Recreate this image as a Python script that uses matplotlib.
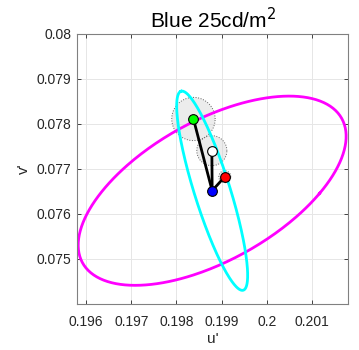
import numpy as np
import matplotlib
matplotlib.use("Agg")
import matplotlib.pyplot as plt

plt.rcParams['font.family'] = ['Liberation Sans', 'DejaVu Sans']

# Chromaticity points (u', v')
center = (0.198790, 0.076511)      # blue reference
green_pt = (0.198376, 0.078104)
white_pt = (0.198783, 0.077400)
red_pt = (0.199069, 0.076822)

# Uncertainty circle radii (in u'v' units)
green_r = 0.00048
white_r = 0.000333
red_r = 0.000133

# Ellipses: semi-major, semi-minor, angle (deg)
magenta_ell = (0.003285, 0.001551, 29.3)
cyan_ell = (0.002314, 0.000396, 107.3)

xticks = [0.196, 0.197, 0.198, 0.199, 0.200, 0.201]
xticklabels = ['0.196', '0.197', '0.198', '0.199', '0.2', '0.201']
yticks = [0.075, 0.076, 0.077, 0.078, 0.079, 0.080]
yticklabels = ['0.075', '0.076', '0.077', '0.078', '0.079', '0.08']


def ellipse_xy(c, a, b, ang, t0=0.0, n=400):
    t = np.linspace(t0, t0 + 2 * np.pi, n)
    th = np.deg2rad(ang)
    x = c[0] + a * np.cos(t) * np.cos(th) - b * np.sin(t) * np.sin(th)
    y = c[1] + a * np.cos(t) * np.sin(th) + b * np.sin(t) * np.cos(th)
    return x, y


def circle_xy(c, r, n=200):
    t = np.linspace(0, 2 * np.pi, n)
    return c[0] + r * np.cos(t), c[1] + r * np.sin(t)


fig = plt.figure(figsize=(3.59, 3.5), dpi=100)
ax = fig.add_axes([0.2145, 0.132, 0.7555, 0.772])

# shaded uncertainty circles sit under the ellipse outlines
for pt, r in [(green_pt, green_r), (white_pt, white_r), (red_pt, red_r)]:
    cx, cy = circle_xy(pt, r)
    ax.fill(cx, cy, facecolor='#d0d0d0', alpha=0.4, zorder=1.5)
    ax.plot(cx, cy, color='#606060', lw=0.7, ls=':', zorder=1.6)

x, y = ellipse_xy(center, *magenta_ell, t0=-0.9)
ax.plot(x, y, color='#ff00ff', lw=2, zorder=2)
x, y = ellipse_xy(center, *cyan_ell)
ax.plot(x, y, color='#00ffff', lw=2, zorder=2)

for pt in [green_pt, white_pt, red_pt]:
    ax.plot([center[0], pt[0]], [center[1], pt[1]], color='black', lw=2, zorder=4)

for pt, col in [(green_pt, '#00ff00'), (white_pt, 'white'), (red_pt, 'red'), (center, 'blue')]:
    ax.plot(pt[0], pt[1], 'o', ms=7, mfc=col, mec='black', mew=0.8, zorder=5)

ax.set_xlim(0.1958, 0.2018)
ax.set_ylim(0.074, 0.080)
ax.set_xticks(xticks)
ax.set_xticklabels(xticklabels)
ax.set_yticks(yticks)
ax.set_yticklabels(yticklabels)
ax.tick_params(direction='in', top=True, right=True, labelsize=10,
               colors='#262626', length=3, width=0.6)
ax.tick_params(axis='x', pad=8)
ax.tick_params(axis='y', pad=4)
ax.grid(True, color='#e6e6e6', lw=0.7)
ax.set_axisbelow(True)
for s in ax.spines.values():
    s.set_color('#808080')
    s.set_linewidth(0.8)

ax.set_xlabel("u'", fontsize=11, color='#262626', labelpad=2)
ax.set_ylabel("v'", fontsize=11, color='#262626')
ax.set_title('Blue 25cd/m$^2$', fontsize=15, color='black', pad=4)

fig.savefig('out.png', dpi=100)
